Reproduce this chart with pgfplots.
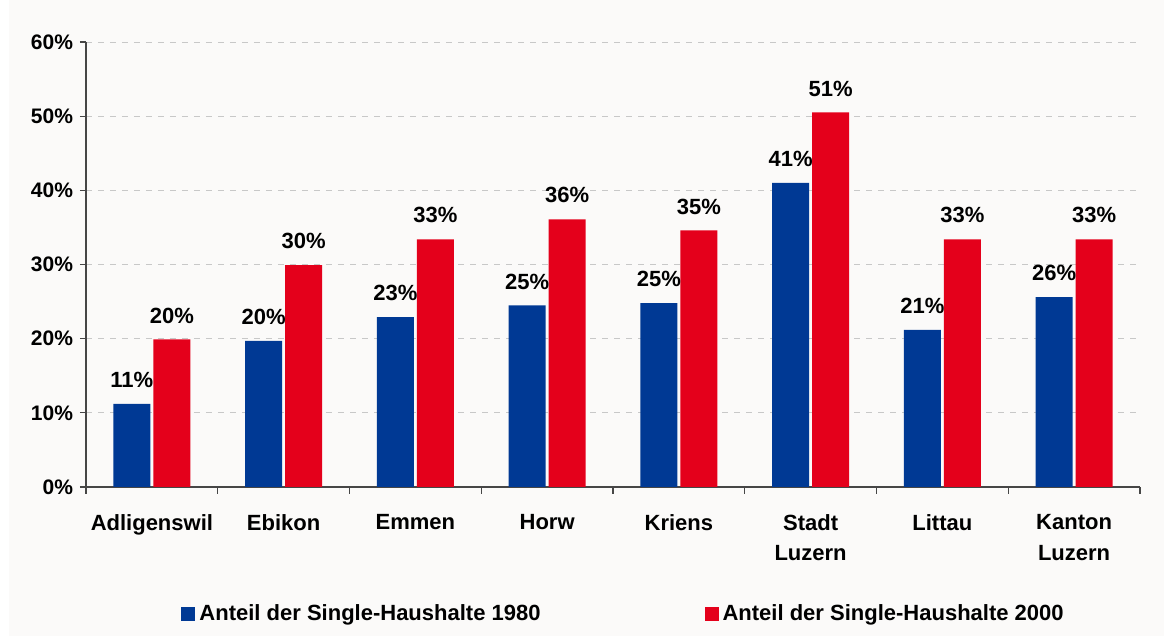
\documentclass[border=0pt]{standalone}
\usepackage{pgfplots}
\pgfplotsset{compat=1.18}
\usepackage{fontspec}
\setmainfont{Liberation Sans}
\definecolor{bblue}{RGB}{0,57,148}
\definecolor{rred}{RGB}{228,0,27}
\definecolor{bg}{RGB}{251,250,249}
\definecolor{axgray}{RGB}{70,70,70}
\definecolor{gridgray}{RGB}{200,200,200}
\begin{document}
\begin{tikzpicture}
\fill[white] (0,0) rectangle (582pt,318pt);
\fill[bg] (4.5pt,0) rectangle (582pt,318pt);
\begin{axis}[
  at={(43pt,74.5pt)}, anchor=south west,
  scale only axis, width=527pt, height=222.5pt,
  ymin=0, ymax=60, xmin=-0.5, xmax=7.5,
  axis lines*=left, axis line style={-, draw=axgray, line width=0.6pt},
  tick align=outside, major tick length=3pt, minor tick length=3.5pt,
  tick style={draw=axgray, line width=0.6pt},
  ytick={0,10,20,30,40,50,60},
  yticklabels={0\%,10\%,20\%,30\%,40\%,50\%,60\%},
  yticklabel style={font=\bfseries\fontsize{10.5}{12}\selectfont},
  ymajorgrids, grid style={gridgray, dash pattern=on 3pt off 3pt, line width=0.5pt},
  xtick={0,...,7},
  major x tick style={draw=none},
  minor xtick={-0.5,0.5,...,7.5},
  xticklabels={Adligenswil,Ebikon,Emmen,Horw,Kriens,{Stadt\\Luzern},Littau,{Kanton\\Luzern}},
  xticklabel style={align=center, anchor=north, yshift=-7pt, font=\bfseries\fontsize{11}{15.5}\selectfont},
  ybar, bar width=18.5pt,
  point meta=explicit symbolic,
  nodes near coords={\pgfplotspointmeta\%},
  every node near coord/.append style={font=\bfseries\fontsize{11}{13}\selectfont, yshift=4.5pt, black},
  legend columns=2,
  legend style={at={(0.511,-0.285)}, anchor=center, draw=none, fill=none,
    font=\bfseries\fontsize{11}{13}\selectfont,
    /tikz/every even column/.append style={column sep=80pt}},
  legend image code/.code={\fill[#1, draw=none] (0pt,-3.5pt) rectangle (7pt,3.5pt);},
]
\addplot[fill=bblue, draw=none, bar shift=-10pt] coordinates {
  (0,11.2)[11] (1,19.7)[20] (2,22.9)[23] (3,24.5)[25] (4,24.8)[25] (5,41.0)[41] (6,21.2)[21] (7,25.6)[26]};
\addplot[fill=rred, draw=none, bar shift=10pt] coordinates {
  (0,19.9)[20] (1,29.9)[30] (2,33.4)[33] (3,36.1)[36] (4,34.6)[35] (5,50.5)[51] (6,33.4)[33] (7,33.4)[33]};
\legend{Anteil der Single-Haushalte 1980, Anteil der Single-Haushalte 2000}
\end{axis}
\end{tikzpicture}
\end{document}
